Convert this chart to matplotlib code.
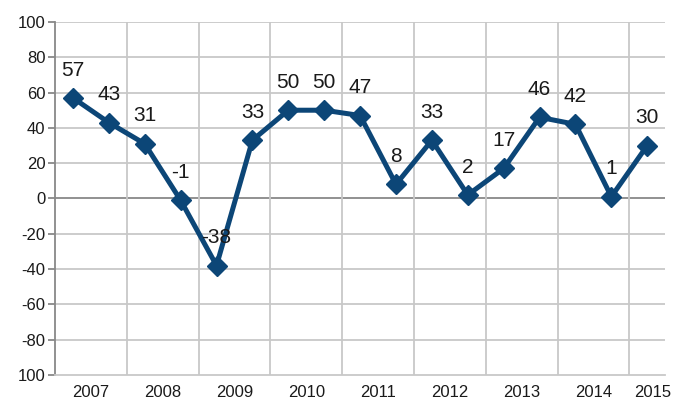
import numpy as np
import matplotlib.pyplot as plt

plt.rcParams['font.family'] = ['Liberation Sans', 'DejaVu Sans']

## data
values = [57, 43, 31, -1, -38, 33, 50, 50, 47, 8, 33, 2, 17, 46, 42, 1, 30]
years  = ['2007', '2008', '2009', '2010', '2011', '2012', '2013', '2014', '2015']
yticks = [100, 80, 60, 40, 20, 0, -20, -40, -60, -80, -100]
ylabels = ['100', '80', '60', '40', '20', '0', '-20', '-40', '-60', '-80', '100']

x = np.arange(len(values))
blue = '#0c4677'

fig = plt.figure(figsize=(6.78, 4.03), dpi=100)
ax = fig.add_axes([0.0811, 0.0695, 0.9, 0.876])

ax.plot(x, values, color=blue, lw=3.6, marker='D', ms=10.5, mec=blue, mfc=blue, zorder=3)
for xi, v in zip(x, values):
    ax.annotate(str(v), (xi, v), xytext=(0, 20), textcoords='offset points',
                ha='center', va='center', fontsize=15, color='#1a1a1a', zorder=4)

ax.set_xlim(-0.5, 16.5)
ax.set_ylim(-100, 100)

# grid
ax.set_yticks(yticks)
ax.set_yticklabels(ylabels)
for t in yticks:
    if t == 0:
        ax.axhline(t, color='#888888', lw=1.3, zorder=1)
    elif t != -100:
        ax.axhline(t, color='#c8c8c8', lw=1.3, zorder=1)
for g in np.arange(1.5, 16, 2):
    ax.axvline(g, color='#c8c8c8', lw=1.3, zorder=1)

label_pos = [0.5 + 2 * k for k in range(8)] + [16.15]
ax.set_xticks(label_pos)
ax.set_xticklabels(years)
ax.tick_params(axis='x', length=0, pad=7, labelsize=12, labelcolor='#1a1a1a')
ax.tick_params(axis='y', length=5, width=1.3, color='#888888', pad=2,
               labelsize=12, labelcolor='#1a1a1a')

for s in ['top', 'right']:
    ax.spines[s].set_visible(False)
ax.spines['left'].set_color('#888888')
ax.spines['left'].set_linewidth(1.3)
ax.spines['bottom'].set_color('#c8c8c8')
ax.spines['bottom'].set_linewidth(1.3)

fig.savefig('out.png', dpi=100)
